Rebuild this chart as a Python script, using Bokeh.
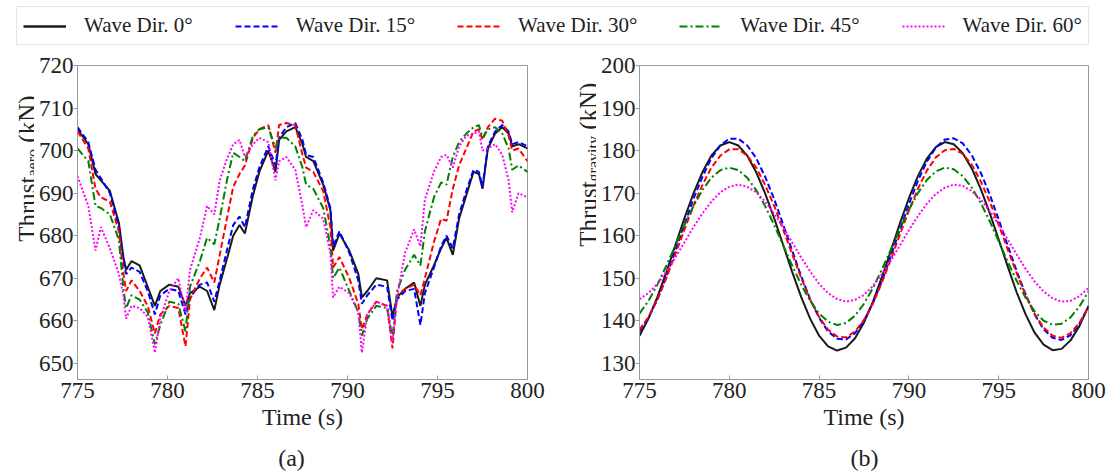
import math
from bokeh.plotting import figure
from bokeh.models import Legend, LegendItem, Label, Range1d, FixedTicker
from bokeh.layouts import column, row
from bokeh.embed import file_html
from bokeh.resources import INLINE

FONT = "Liberation Serif"
TXT = "#222222"
GREY = "#9a9a9a"

SERIES = ["Wave Dir. 0\u00b0", "Wave Dir. 15\u00b0", "Wave Dir. 30\u00b0",
          "Wave Dir. 45\u00b0", "Wave Dir. 60\u00b0"]
COLORS = ["#1a1a1a", "#0000ff", "#ff0000", "#008000", "#ff00ff"]
DASHES = ["solid", "6 3", "6 3", "8 3 2 3", "2 2"]

X_TICKS = [775, 780, 785, 790, 795, 800]
AERO_TICKS = [650, 660, 670, 680, 690, 700, 710, 720]
GRAV_TICKS = [130, 140, 150, 160, 170, 180, 190, 200]

# ---------------- (a) aerodynamic thrust ----------------
T_AERO = [775.0, 775.6, 776.0, 776.3, 776.8, 777.3, 777.55, 777.7, 778.0, 778.45,
          778.9, 779.3, 779.6, 780.1, 780.6, 781.0, 781.25, 781.8, 782.2, 782.6,
          782.9, 783.3, 783.65, 784.0, 784.3, 784.75, 785.1, 785.6, 786.0, 786.2,
          786.6, 787.1, 787.5, 787.7, 788.1, 788.65, 789.05, 789.2, 789.55, 790.1,
          790.6, 790.8, 791.1, 791.6, 792.2, 792.5, 792.75, 793.2, 793.7, 794.05,
          794.3, 794.8, 795.2, 795.5, 795.85, 796.2, 796.6, 797.0, 797.3, 797.5,
          797.8, 798.2, 798.6, 798.95, 799.15, 799.5, 800.0]

AERO_0 = [705.0, 701.5, 694.5, 693.0, 690.5, 683.0, 675.0, 672.0, 674.0, 673.0,
          668.0, 663.5, 667.0, 668.5, 668.0, 663.5, 666.5, 668.0, 667.0, 662.5,
          668.5, 674.5, 680.0, 682.5, 680.5, 689.5, 695.0, 700.0, 695.0, 702.5,
          704.5, 705.5, 701.5, 698.5, 697.5, 692.0, 686.0, 676.5, 680.5, 676.5,
          671.0, 665.5, 667.0, 670.0, 669.5, 661.0, 665.5, 667.5, 669.0, 663.5,
          668.5, 673.0, 677.0, 679.5, 675.5, 684.0, 689.5, 695.0, 694.5, 691.0,
          700.5, 704.0, 705.5, 704.0, 701.0, 701.5, 700.5]
AERO_15 = [705.5, 702.0, 695.5, 693.5, 690.0, 682.0, 674.0, 671.0, 672.5, 671.5,
           667.0, 661.5, 666.0, 667.5, 667.0, 661.5, 665.5, 668.5, 669.0, 664.5,
           669.5, 676.5, 682.5, 684.5, 682.0, 691.0, 696.0, 701.0, 696.5, 703.0,
           705.5, 706.5, 702.5, 699.0, 698.5, 692.5, 686.5, 677.5, 681.0, 676.0,
           669.5, 664.0, 666.0, 668.5, 668.0, 660.0, 665.0, 667.0, 667.5, 659.0,
           666.5, 672.5, 677.5, 680.0, 677.0, 685.0, 690.5, 695.5, 695.0, 691.5,
           701.0, 704.5, 706.0, 704.5, 701.5, 702.0, 701.0]
AERO_30 = [704.5, 700.5, 691.0, 689.0, 688.0, 681.0, 671.0, 667.0, 669.5, 667.0,
           663.5, 657.0, 661.5, 663.5, 663.0, 654.0, 665.0, 670.0, 672.5, 669.0,
           675.5, 684.0, 691.5, 694.5, 696.5, 703.0, 705.0, 706.0, 699.5, 706.0,
           706.5, 706.0, 699.0, 696.0, 695.0, 690.5, 682.0, 672.5, 675.0, 670.0,
           664.0, 658.0, 661.5, 664.5, 663.5, 653.5, 666.0, 667.5, 668.5, 666.0,
           670.0, 678.5, 684.0, 683.5, 691.0, 696.5, 700.5, 704.5, 705.0, 702.5,
           705.5, 707.5, 707.0, 703.5, 700.0, 700.5, 697.5]
AERO_45 = [700.5, 697.5, 687.0, 686.5, 685.0, 679.0, 667.5, 663.0, 666.0, 665.0,
           662.0, 654.5, 659.0, 664.5, 664.0, 657.5, 668.0, 674.0, 679.5, 678.0,
           684.0, 693.0, 699.5, 698.5, 697.5, 703.5, 705.0, 705.5, 700.5, 703.0,
           703.0, 701.0, 696.0, 692.0, 691.0, 686.5, 677.5, 670.0, 672.5, 667.0,
           662.0, 656.5, 660.5, 663.5, 663.0, 656.0, 667.0, 672.0, 675.5, 673.0,
           681.0, 689.0, 692.5, 692.0, 698.5, 702.0, 704.0, 705.5, 706.0, 703.0,
           705.0, 705.5, 704.0, 700.5, 695.5, 696.5, 695.0]
AERO_60 = [694.0, 687.0, 676.5, 682.0, 677.0, 671.0, 666.0, 660.5, 663.5, 663.0,
           661.0, 652.5, 660.5, 667.0, 670.0, 662.0, 672.0, 679.5, 687.0, 685.0,
           693.0, 698.0, 701.5, 702.5, 698.5, 701.5, 703.0, 702.0, 693.0, 697.5,
           698.5, 695.5, 687.0, 682.0, 686.0, 684.0, 676.0, 665.5, 668.0, 666.5,
           662.0, 652.5, 661.5, 664.5, 663.5, 655.0, 665.5, 676.0, 681.5, 677.5,
           688.5, 695.0, 698.5, 699.0, 696.0, 701.0, 703.5, 704.0, 704.5, 700.0,
           700.5, 701.5, 699.0, 693.0, 685.5, 690.0, 689.0]

# ---------------- (b) gravity thrust ----------------
T_GRAV = [775.0, 775.5, 776.0, 776.5, 777.0, 777.5, 778.0, 778.5, 779.0, 779.5,
          780.0, 780.5, 781.0, 781.5, 782.0, 782.5, 783.0, 783.5, 784.0, 784.5,
          785.0, 785.5, 786.0, 786.5, 787.0, 787.5, 788.0, 788.5, 789.0, 789.5,
          790.0, 790.5, 791.0, 791.5, 792.0, 792.5, 793.0, 793.5, 794.0, 794.5,
          795.0, 795.5, 796.0, 796.5, 797.0, 797.5, 798.0, 798.5, 799.0, 799.5,
          800.0]

GRAV_0 = [136.5, 140.5, 145.6, 151.5, 157.8, 164.1, 169.9, 174.9, 178.8, 181.2, 182.0,
          181.2, 178.8, 174.9, 169.9, 164.1, 157.8, 151.5, 145.6, 140.5, 136.5,
          134.0, 133.0, 133.7, 135.9, 139.6, 144.5, 150.3, 156.5, 162.9, 168.8,
          174.0, 178.1, 180.8, 182.0, 181.5, 179.4, 175.8, 171.0, 165.3, 159.1,
          152.8, 146.7, 141.5, 137.2, 134.4, 133.1, 133.4, 135.4, 138.8, 143.5]
GRAV_15 = [137.5, 140.7, 145.1, 150.5, 156.5, 162.6, 168.6, 173.8, 178.2, 181.2, 182.8,
           182.8, 181.2, 178.2, 173.8, 168.6, 162.6, 156.5, 150.5, 145.1, 140.7,
           137.5, 135.8, 135.6, 137.1, 140.0, 144.2, 149.4, 155.3, 161.4, 167.4,
           172.9, 177.4, 180.7, 182.6, 182.9, 181.7, 178.9, 174.8, 169.7, 163.8,
           157.7, 151.7, 146.2, 141.5, 138.0, 136.0, 135.5, 136.6, 139.3, 143.2]
GRAV_30 = [137.9, 140.9, 145.0, 150.1, 155.7, 161.4, 167.0, 171.9, 176.0, 178.8, 180.3,
           180.3, 178.8, 176.0, 171.9, 167.0, 161.4, 155.7, 150.1, 145.0, 140.9,
           137.9, 136.3, 136.1, 137.5, 140.2, 144.1, 149.0, 154.5, 160.3, 165.9,
           171.0, 175.3, 178.4, 180.1, 180.4, 179.2, 176.7, 172.8, 168.0, 162.6,
           156.8, 151.2, 146.0, 141.6, 138.4, 136.5, 136.0, 137.1, 139.5, 143.3]
GRAV_45 = [141.7, 144.7, 148.5, 153.0, 157.7, 162.5, 166.9, 170.7, 173.6, 175.4, 176.0,
           175.4, 173.6, 170.7, 166.9, 162.5, 157.7, 153.0, 148.5, 144.7, 141.7,
           139.8, 139.0, 139.5, 141.2, 144.0, 147.7, 152.1, 156.8, 161.6, 166.1,
           170.0, 173.1, 175.1, 176.0, 175.6, 174.0, 171.3, 167.7, 163.4, 158.7,
           153.9, 149.4, 145.4, 142.2, 140.0, 139.1, 139.3, 140.8, 143.4, 146.9]
GRAV_60 = [145.1, 146.5, 148.7, 151.6, 154.9, 158.4, 162.0, 165.2, 168.0, 170.2, 171.5,
           172.0, 171.5, 170.2, 168.0, 165.2, 162.0, 158.4, 154.9, 151.6, 148.7,
           146.5, 145.1, 144.5, 144.9, 146.1, 148.2, 151.0, 154.2, 157.7, 161.3,
           164.6, 167.5, 169.8, 171.3, 172.0, 171.7, 170.5, 168.5, 165.8, 162.6,
           159.1, 155.6, 152.2, 149.2, 146.9, 145.3, 144.5, 144.7, 145.8, 147.7]

AERO = [AERO_0, AERO_15, AERO_30, AERO_45, AERO_60]
GRAV = [GRAV_0, GRAV_15, GRAV_30, GRAV_45, GRAV_60]

ROW_H = 388      # height of the plotting row (page y 52 .. 440)
FRAME_TOP = 13   # frame top at page y 65
FRAME_H = 314    # frame bottom at page y 379
AX_W = 43        # room kept for the y tick labels


def blank(width, height):
    f = figure(width=width, height=height, x_range=Range1d(0, width),
               y_range=Range1d(0, height), x_axis_type=None, y_axis_type=None,
               min_border=0, output_backend="svg", toolbar_location=None)
    f.outline_line_color = None
    return f


def make_panel(t, data, yr, yticks, fw, right):
    p = figure(frame_width=fw, frame_height=FRAME_H, min_border_left=AX_W,
               min_border_right=right, min_border_top=FRAME_TOP,
               min_border_bottom=ROW_H - FRAME_TOP - FRAME_H,
               x_range=Range1d(775, 800), y_range=Range1d(*yr),
               output_backend="svg", toolbar_location=None)
    for vals, c, d in zip(data, COLORS, DASHES):
        p.line(t, vals, line_color=c, line_width=2, line_dash=d)
    p.grid.visible = False
    p.outline_line_color = GREY
    p.outline_line_width = 1
    p.xaxis.ticker = FixedTicker(ticks=X_TICKS)
    p.yaxis.ticker = FixedTicker(ticks=yticks)
    for ax in (p.xaxis[0], p.yaxis[0]):
        ax.axis_line_color = GREY
        ax.major_tick_line_color = GREY
        ax.minor_tick_line_color = None
        ax.major_label_text_font = FONT
        ax.major_label_text_font_size = "23px"
        ax.major_label_text_color = TXT
    p.xaxis.major_label_standoff = 3
    p.yaxis.major_label_standoff = 0
    p.yaxis.axis_label_standoff = 0
    p.xaxis.major_tick_in = 4
    p.xaxis.major_tick_out = 0
    p.yaxis.major_tick_in = 0
    p.yaxis.major_tick_out = 4
    p.xaxis.axis_label = "Time (s)"
    p.xaxis.axis_label_text_font = FONT
    p.xaxis.axis_label_text_font_size = "24px"
    p.xaxis.axis_label_text_font_style = "normal"
    p.xaxis.axis_label_text_color = TXT
    p.xaxis.axis_label_standoff = 3
    return p


def ylabel_strip(width, base_x, center_y_page, sub, sub_len):
    f = blank(width, ROW_H)
    F, S = 25, 16
    w_main = 2.611 * F
    total = w_main + sub_len * S + 2.388 * F
    y0 = (ROW_H + 52 - center_y_page) - total / 2
    common = dict(x_units="screen", y_units="screen", angle=math.pi / 2,
                  text_align="left", text_baseline="alphabetic",
                  text_font=FONT, text_color=TXT)
    f.add_layout(Label(x=base_x, y=y0, text="Thrust", text_font_size=f"{F}px", **common))
    f.add_layout(Label(x=base_x + 5, y=y0 + w_main, text=sub,
                       text_font_size=f"{S}px", **common))
    f.add_layout(Label(x=base_x, y=y0 + w_main + sub_len * S + 0.25 * F, text="(kN)",
                       text_font_size=f"{F}px", **common))
    return f


# left block: 34 (label strip) + 43 + 450 + 28 = 555
lab_a = ylabel_strip(34, 27, 226, "aero", 1.721)
left = make_panel(T_AERO, AERO, (646.2, 720), AERO_TICKS, 450, 28)
# right block: 41 (label strip) + 43 + 449 + 22 = 555
lab_b = ylabel_strip(41, 33, 222, "gravity", 2.833)
right = make_panel(T_GRAV, GRAV, (126.2, 200), GRAV_TICKS, 449, 22)

# legend strip
top = blank(1110, 52)
items = []
for name, c, d in zip(SERIES, COLORS, DASHES):
    r = top.line(x=[-20, -10], y=[-20, -10], line_color=c,
                 line_width=2.5 if d == "solid" else 2, line_dash=d)
    items.append(LegendItem(label=name, renderers=[r]))
legend = Legend(items=items, orientation="horizontal", location=(16, 7),
                padding=6, spacing=42, margin=0, glyph_width=43, glyph_height=20,
                label_height=20, label_standoff=18, label_text_font=FONT,
                label_text_font_size="21px", label_text_color=TXT,
                border_line_color="#cccccc", border_line_width=1)
top.add_layout(legend, "center")

# caption strip
cap = blank(1110, 472 - 52 - ROW_H)
for txt, cx in (("(a)", 291), ("(b)", 864)):
    cap.add_layout(Label(x=cx, y=15, x_units="screen", y_units="screen", text=txt,
                         text_align="center", text_baseline="middle", text_font=FONT,
                         text_font_size="24px", text_color=TXT))

layout = column(top, row(lab_a, left, lab_b, right), cap)
open("out.html", "w").write(file_html(layout, INLINE))
